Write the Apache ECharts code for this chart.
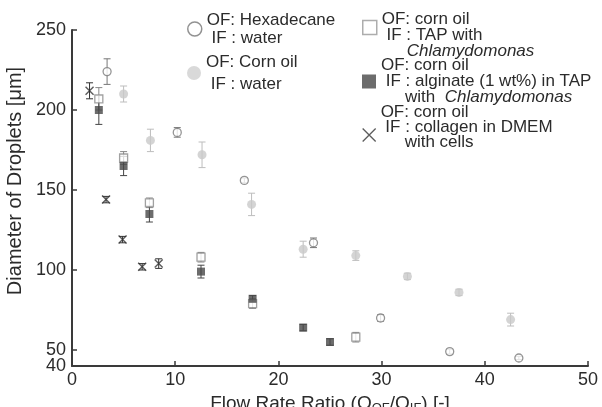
<!DOCTYPE html>
<html>
<head>
<meta charset="utf-8">
<script src="https://cdn.jsdelivr.net/npm/echarts@6/dist/echarts.min.js"></script>
<style>
  html, body { margin: 0; padding: 0; background: #fff; }
  #chart { width: 602px; height: 407px; }
</style>
</head>
<body>
<div id="chart"></div>
<script>
// values: x = flow rate ratio, y = droplet diameter, err = half error bar
var hexX = [3.4, 10.2, 16.7, 23.4, 29.9, 36.6, 43.3];
var hexY = [224, 186, 156, 117, 70, 49, 45];
var hexErr = [8, 3, 1.5, 3, 2, 1.5, 1];

var cornX = [5.0, 7.6, 12.6, 17.4, 22.4, 27.5, 32.5, 37.5, 42.5];
var cornY = [210, 181, 172, 141, 113, 109, 96, 86, 69];
var cornErr = [5, 7, 8, 7, 5, 3, 2, 2, 4];

var tapX = [2.6, 5.0, 7.5, 12.5, 17.5, 27.5];
var tapY = [207, 170, 142, 108, 79, 58];
var tapErr = [7, 4, 3, 3, 3, 3];

var algX = [2.6, 5.0, 7.5, 12.5, 17.5, 22.4, 25.0];
var algY = [200, 165, 135, 99, 82, 64, 55];
var algErr = [9, 6, 5, 4, 2, 2, 2];

var colX = [1.7, 3.3, 4.9, 6.8, 8.4];
var colY = [212, 144, 119, 102, 104];
var colErr = [5, 2, 2, 2, 3];

var yTickValues = [50, 100, 150, 200, 250];
var yMinLabel = [40];

var FONT = '"Liberation Sans", Arial, sans-serif';
var TEXT = '#2b2b2b';
var X_PATH = 'path://M0,0L10,10M10,0L0,10';

function zip(xs, ys, es) {
  return xs.map(function (x, i) { return [x, ys[i], es[i]]; });
}

function errorSeries(name, data, color) {
  return {
    name: name + ' err',
    type: 'custom',
    z: 1,
    data: data,
    renderItem: function (params, api) {
      var x = api.value(0), y = api.value(1), e = api.value(2);
      var top = api.coord([x, y + e]);
      var bot = api.coord([x, y - e]);
      var hw = 3.5;
      var st = { stroke: color, lineWidth: 1 };
      return {
        type: 'group',
        children: [
          { type: 'line', shape: { x1: top[0], y1: top[1], x2: bot[0], y2: bot[1] }, style: st },
          { type: 'line', shape: { x1: top[0] - hw, y1: top[1], x2: top[0] + hw, y2: top[1] }, style: st },
          { type: 'line', shape: { x1: bot[0] - hw, y1: bot[1], x2: bot[0] + hw, y2: bot[1] }, style: st }
        ]
      };
    }
  };
}

var names = {
  hex: 'Hexadecane / water',
  corn: 'Corn oil / water',
  tap: 'corn oil / TAP',
  alg: 'corn oil / alginate',
  col: 'corn oil / collagen'
};

var labels = {};
labels[names.hex] = '{a|OF: Hexadecane}\n{a| IF : water}';
labels[names.corn] = '{a|OF: Corn oil}\n{a| IF : water}';
labels[names.tap] = '{a| }\n{a|OF: corn oil}\n{a| IF : TAP with}\n{i|Chlamydomonas}';
labels[names.alg] = '{a|OF: corn oil}\n{a| IF : alginate (1 wt%) in TAP}\n{w|with  }{c|Chlamydomonas}';
labels[names.col] = '{a|OF: corn oil}\n{a| IF : collagen in DMEM}\n{w|with cells}\n{a| }';

function makeLegend(name, icon, left, top, lh, itemStyle, size) {
  var base = { fontFamily: FONT, fontSize: 17, color: TEXT, lineHeight: lh };
  return {
    data: [{ name: name, icon: icon, itemStyle: itemStyle }],
    left: left,
    top: top,
    padding: 0,
    itemWidth: size || 14,
    itemHeight: size || 14,
    selectedMode: false,
    formatter: function (n) { return labels[n]; },
    textStyle: {
      fontFamily: FONT, fontSize: 17, color: TEXT, lineHeight: lh,
      rich: {
        a: base,
        w: Object.assign({}, base, { padding: [0, 0, 0, 24] }),
        i: Object.assign({}, base, { fontStyle: 'italic', padding: [0, 0, 0, 25] }),
        c: Object.assign({}, base, { fontStyle: 'italic' })
      }
    }
  };
}

var chart = echarts.init(document.getElementById('chart'));

var hexStyle = { color: '#fff', borderColor: '#7a7a7a', borderWidth: 1.3 };
var cornStyle = { color: '#c9c9c9' };
var tapStyle = { color: '#fff', borderColor: '#8a8a8a', borderWidth: 1.3 };
var algStyle = { color: '#474747' };
var colStyle = { color: 'rgba(0,0,0,0)', borderColor: '#333', borderWidth: 1.4 };

var yLabelBase = { fontFamily: FONT, fontSize: 18, color: TEXT, margin: 6, lineHeight: 14, hideOverlap: false };

var option = {
  animation: false,
  backgroundColor: '#fff',
  grid: { left: 72, right: 14, top: 30, bottom: 41, outerBoundsMode: 'none' },
  legend: [
    makeLegend(names.hex, 'circle', 187, 11, 18, { color: '#fff', borderColor: '#777', borderWidth: 1.5 }),
    makeLegend(names.corn, 'circle', 187, 51, 22, { color: '#cfcfcf' }),
    makeLegend(names.tap, 'rect', 362, -5, 16, { color: '#fff', borderColor: '#999', borderWidth: 1.5 }),
    makeLegend(names.alg, 'rect', 362, 57, 16, { color: '#474747' }),
    makeLegend(names.col, X_PATH, 362, 104, 15, { color: 'rgba(0,0,0,0)', borderColor: '#333', borderWidth: 1.3 }, 13)
  ],
  xAxis: {
    type: 'value',
    min: 0,
    max: 50,
    interval: 10,
    splitLine: { show: false },
    axisLine: { lineStyle: { color: '#3a3a3a', width: 2 } },
    axisTick: { inside: true, length: 5, lineStyle: { color: '#3a3a3a', width: 1.5 } },
    axisLabel: { fontFamily: FONT, fontSize: 18, color: TEXT, margin: 5 },
    name: '{n|Flow Rate Ratio (Q}{s|OF}{n|/Q}{s|IF}{n|) [-]}',
    nameLocation: 'middle',
    nameGap: 19,
    nameTextStyle: {
      rich: {
        n: { fontFamily: FONT, fontSize: 19, color: TEXT },
        s: { fontFamily: FONT, fontSize: 13, color: TEXT, verticalAlign: 'bottom', padding: [10, 0, 0, 0] }
      }
    }
  },
  yAxis: [
    {
      type: 'value',
      min: 40,
      max: 250,
      splitLine: { show: false },
      axisLine: { show: true, lineStyle: { color: '#3a3a3a', width: 2 } },
      axisTick: { inside: true, length: 5, customValues: yTickValues, lineStyle: { color: '#3a3a3a', width: 1.5 } },
      axisLabel: Object.assign({ customValues: yTickValues }, yLabelBase),
      name: 'Diameter of Droplets [μm]',
      nameLocation: 'middle',
      nameGap: 44,
      nameTextStyle: { fontFamily: FONT, fontSize: 20, color: TEXT, padding: [0, 0, 0, 34] }
    },
    {
      // second left axis only carries the "40" at the bottom end
      type: 'value',
      position: 'left',
      min: 40,
      max: 250,
      splitLine: { show: false },
      axisLine: { show: false },
      axisTick: { show: false },
      axisLabel: Object.assign({ customValues: yMinLabel, showMinLabel: true }, yLabelBase)
    }
  ],
  series: [
    errorSeries(names.hex, zip(hexX, hexY, hexErr), '#777'),
    errorSeries(names.corn, zip(cornX, cornY, cornErr), '#bdbdbd'),
    errorSeries(names.tap, zip(tapX, tapY, tapErr), '#888'),
    errorSeries(names.alg, zip(algX, algY, algErr), '#444'),
    errorSeries(names.col, zip(colX, colY, colErr), '#333'),
    { name: names.hex, type: 'scatter', z: 3, symbol: 'circle', symbolSize: 8, itemStyle: hexStyle, data: zip(hexX, hexY, hexErr) },
    { name: names.corn, type: 'scatter', z: 2, symbol: 'circle', symbolSize: 9, itemStyle: cornStyle, data: zip(cornX, cornY, cornErr) },
    { name: names.tap, type: 'scatter', z: 3, symbol: 'rect', symbolSize: 8, itemStyle: tapStyle, data: zip(tapX, tapY, tapErr) },
    { name: names.alg, type: 'scatter', z: 3, symbol: 'rect', symbolSize: 8, itemStyle: algStyle, data: zip(algX, algY, algErr) },
    { name: names.col, type: 'scatter', z: 3, symbol: X_PATH, symbolSize: 8, itemStyle: colStyle, data: zip(colX, colY, colErr) }
  ]
};

chart.setOption(option);
</script>
</body>
</html>
